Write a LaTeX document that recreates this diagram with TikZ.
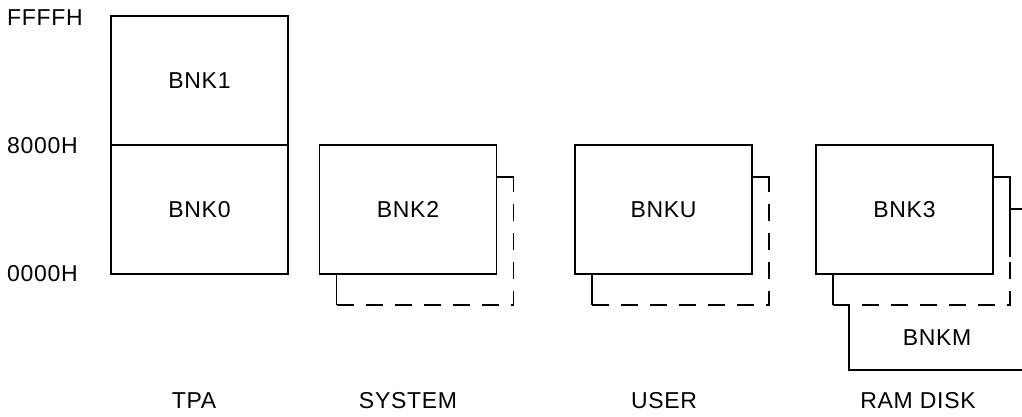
\documentclass[tikz,border=0pt]{standalone}
\usepackage{fontspec}
\setmainfont[LetterSpace=3]{Liberation Sans}
\usetikzlibrary{calc}

\begin{document}
\begin{tikzpicture}[
    x=1pt,y=-1pt,
    font=\fontsize{23}{27}\selectfont,
    bank/.style={draw,line width=1.4pt,minimum width=177pt,minimum height=129pt,
                 inner sep=0pt,outer sep=0pt},
    behind/.style={line width=1.4pt,dash pattern=on 17pt off 12pt},
    wall/.style={line width=1.4pt},
    addr/.style={anchor=west,inner sep=0pt},
    lbl/.style={inner sep=0pt}
  ]
  \useasboundingbox (0,0) rectangle (1022,417);

  % address scale
  \node[addr] (ffff) at (7,18)  {FFFFH};
  \node[addr] (h8000) at (7,146) {8000H};
  \node[addr] (h0000) at (7,274) {0000H};

  % TPA
  \node[bank] (bnk1) at (199.5,80.5)  {BNK1};
  \node[bank] (bnk0) at (199.5,209.5) {BNK0};

  % system, user, ram disk
  \node[bank] (bnk2) at (408,209.5) {BNK2};
  \node[bank] (bnku) at (663.5,209.5) {BNKU};
  \node[bank] (bnk3) at (904.5,209.5) {BNK3};

  % banks behind
  \draw[wall] ($(bnk2.south west)+(17,0)$) -- ++(0,31);
  \draw[behind] ($(bnk2.south west)+(17,31)$) -- ($(bnk2.south east)+(17,31)$)
                -- ($(bnk2.north east)+(17,32)$);
  \draw[wall] ($(bnk2.north east)+(0,32)$) -- ++(17,0) -- ++(0,14);

  \draw[wall] ($(bnku.south west)+(17,0)$) -- ++(0,31);
  \draw[behind] ($(bnku.south west)+(17,31)$) -- ($(bnku.south east)+(17,31)$)
                -- ($(bnku.north east)+(17,32)$);
  \draw[wall] ($(bnku.north east)+(0,32)$) -- ++(17,0) -- ++(0,14);

  \draw[wall] ($(bnk3.south west)+(17,0)$) -- ++(0,31);
  \draw[behind] ($(bnk3.south west)+(17,31)$) -- ($(bnk3.south east)+(17,31)$)
                -- ($(bnk3.north east)+(17,32)$);
  \draw[wall] ($(bnk3.north east)+(0,32)$) -- ++(17,0) -- ++(0,80);

  % BNKM
  \coordinate (mtop) at (1024,209);
  \coordinate (mbot) at (1024,370);
  \draw[wall] ($(bnk3.north east)+(17,64)$) -- (mtop);
  \draw[wall] ($(bnk3.south west)+(33,32)$) |- (mbot);
  \node[lbl] (bnkm) at (937,338) {BNKM};

  % captions
  \node[lbl] (tpa) at (194,401) {TPA};
  \node[lbl] (sys) at (408,401) {SYSTEM};
  \node[lbl] (usr) at (664,401) {USER};
  \node[lbl] (ram) at (918,401) {RAM DISK};

\end{tikzpicture}
\end{document}
